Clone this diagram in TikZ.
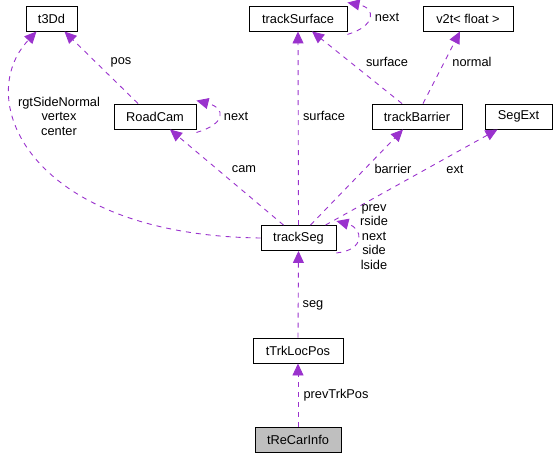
\documentclass[tikz,border=0pt]{standalone}
\usepackage{fontspec}
\setmainfont{Liberation Sans}
\usetikzlibrary{arrows.meta}
\definecolor{edgecol}{HTML}{9A32CD}
\definecolor{boxgray}{HTML}{BFBFBF}
\begin{document}
\begin{tikzpicture}[x=1pt,y=-1pt,
  font=\fontsize{12.8}{14.5}\selectfont,
  cls/.style={draw=black,line width=0.9pt,fill=white,minimum height=25pt,inner sep=0pt,anchor=center},
  rel/.style={draw=edgecol,line width=0.9pt,dash pattern=on 5pt off 5pt,-{Triangle[length=12pt,width=11pt,fill=edgecol]}},
  lbl/.style={inner sep=0pt,align=center}]
\useasboundingbox (0,0) rectangle (556,459);
% classes
\node[cls,minimum width=51pt] (t3Dd) at (51.5,18.5) {t3Dd};
\node[cls,minimum width=98pt] (surf) at (298,18.5) {trackSurface};
\node[cls,minimum width=90pt] (v2t) at (468,18.5) {v2t< float >};
\node[cls,minimum width=82pt] (cam) at (155,116.5) {RoadCam};
\node[cls,minimum width=90pt] (barrier) at (417,116.5) {trackBarrier};
\node[cls,minimum width=67pt] (segext) at (518.5,116.5) {SegExt};
\node[cls,minimum width=75pt] (seg) at (298.5,238) {trackSeg};
\node[cls,minimum width=90pt] (loc) at (298,350.5) {tTrkLocPos};
\node[cls,minimum width=86pt,fill=boxgray] (car) at (298,439.5) {tReCarInfo};
% relations
\draw[rel] (car.north) -- (loc.south);
\draw[rel] (loc.north) -- (seg.south);
\draw[rel] (seg.north) -- (surf.south);
\draw[rel] ([xshift=-15pt]seg.north) -- ([xshift=15pt]cam.south);
\draw[rel] ([xshift=12pt]seg.north) -- ([xshift=-14pt]barrier.south);
\draw[rel] ([xshift=27pt]seg.north) -- ([xshift=-21pt]segext.south);
\draw[rel] (seg.west) .. controls (30,235) and (-28,100) .. ([xshift=-15pt]t3Dd.south);
\draw[rel] ([xshift=-17pt]cam.north) -- ([xshift=13pt]t3Dd.south);
\draw[rel] ([xshift=-15pt]barrier.north) -- ([xshift=14pt]surf.south);
\draw[rel] ([xshift=6pt]barrier.north) -- ([xshift=-8pt]v2t.south);
% self loops
\draw[rel] ([yshift=-3pt]cam.south east) .. controls (226,124) and (226,108) .. ([yshift=3pt]cam.north east);
\draw[rel] ([yshift=-3pt]surf.south east) .. controls (376,26) and (376,8) .. ([yshift=3pt]surf.north east);
\draw[rel] ([yshift=-2pt]seg.south east) .. controls (366,250) and (363,228) .. ([yshift=4pt]seg.north east);
% labels
\node[lbl] (lpos) at (121,62) {pos};
\node[lbl] (lt3) at (59,116) {rgtSideNormal\\vertex\\center};
\node[lbl] (lcamnext) at (236,116) {next};
\node[lbl] (lsurfnext) at (387,17) {next};
\node[lbl] (lsurf1) at (324,116) {surface};
\node[lbl] (lsurf2) at (387,62) {surface};
\node[lbl] (lnormal) at (472,62) {normal};
\node[lbl] (lcam) at (244,169) {cam};
\node[lbl] (lbarrier) at (393,169) {barrier};
\node[lbl] (lext) at (455,169) {ext};
\node[lbl] (lself) at (374,237) {prev\\rside\\next\\side\\lside};
\node[lbl] (lseg) at (313,305) {seg};
\node[lbl] (lprev) at (336,395) {prevTrkPos};
\end{tikzpicture}
\end{document}
